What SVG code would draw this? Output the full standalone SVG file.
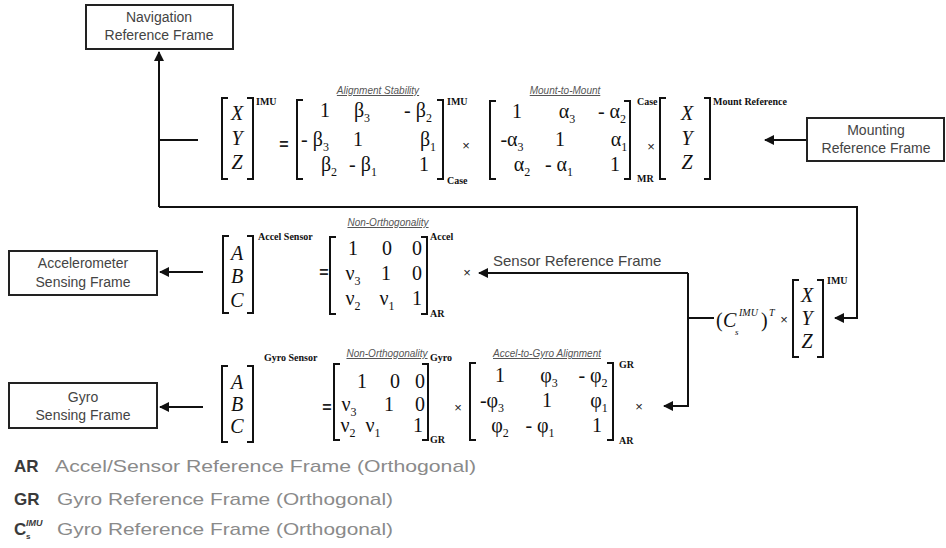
<svg xmlns="http://www.w3.org/2000/svg" width="946" height="548" viewBox="0 0 946 548">
<defs>
<marker id="ah" viewBox="0 0 10 10" refX="9" refY="5" markerWidth="5" markerHeight="5" orient="auto" markerUnits="strokeWidth">
<path d="M0,0 L10,5 L0,10 z" fill="#111"/>
</marker>
<style>
.bx{fill:#fff;stroke:#222;stroke-width:2}
.bt{font-family:"Liberation Sans",Arial,sans-serif;font-size:14px;fill:#444;text-anchor:middle}
.conn{fill:none;stroke:#111;stroke-width:2}
.br{fill:none;stroke:#111;stroke-width:2}
.m{font-family:"Liberation Serif","Times New Roman",serif;font-size:20px;fill:#111;text-anchor:middle}
.ms{font-family:"Liberation Serif","Times New Roman",serif;font-size:20px;fill:#111}
.mi{font-style:italic}
.sb{font-size:12px}
.sp{font-family:"Liberation Serif","Times New Roman",serif;font-size:10px;font-weight:bold;fill:#111}
.lb{font-family:"Liberation Sans",Arial,sans-serif;font-size:10px;font-style:italic;fill:#555;text-anchor:middle;text-decoration:underline}
.op{font-family:"Liberation Sans",Arial,sans-serif;font-size:13px;fill:#222;text-anchor:middle}
.eq{font-family:"Liberation Sans",Arial,sans-serif;font-size:16px;font-weight:bold;fill:#222;text-anchor:middle}
.lk{font-family:"Liberation Sans",Arial,sans-serif;font-size:17px;font-weight:bold;fill:#3a3a3a}
.ld{font-family:"Liberation Sans",Arial,sans-serif;font-size:17px;fill:#8a8a8a}
.st{font-family:"Liberation Sans",Arial,sans-serif;font-size:15px;fill:#444}
</style>
</defs>
<rect width="946" height="548" fill="#fff"/>

<g id="connectors">
<path class="conn" d="M159,207 V52" marker-end="url(#ah)"/>
<path class="conn" d="M159,140 H198"/>
<path class="conn" d="M159,207 H857 V318 H835" marker-end="url(#ah)"/>
<path class="conn" d="M807,140 H765" marker-end="url(#ah)"/>
<path class="conn" d="M203,272 H160" marker-end="url(#ah)"/>
<path class="conn" d="M203,407 H160" marker-end="url(#ah)"/>
<path class="conn" d="M688,273 H479" marker-end="url(#ah)"/>
<path class="conn" d="M688,273 V406 H664" marker-end="url(#ah)"/>
<path class="conn" d="M688,318 H714"/>
</g>

<g id="nav-frame">
<rect class="bx" x="86" y="5" width="147" height="44"/>
<text class="bt" x="159" y="22">Navigation</text>
<text class="bt" x="159" y="40">Reference Frame</text>
</g>

<g id="mounting-frame">
<rect class="bx" x="807" y="118" width="137" height="43"/>
<text class="bt" x="876" y="135">Mounting</text>
<text class="bt" x="876" y="153">Reference Frame</text>
</g>

<g id="accel-frame">
<rect class="bx" x="9" y="251" width="148" height="44"/>
<text class="bt" x="83" y="268">Accelerometer</text>
<text class="bt" x="83" y="287">Sensing Frame</text>
</g>

<g id="gyro-frame">
<rect class="bx" x="9" y="383" width="148" height="45"/>
<text class="bt" x="83" y="402">Gyro</text>
<text class="bt" x="83" y="420">Sensing Frame</text>
</g>

<g id="eq-imu">
<path class="br" d="M228,98 H222 V179 H228"/>
<path class="br" d="M247,98 H253 V179 H247"/>
<text class="m mi" x="237" y="120">X</text>
<text class="m mi" x="237" y="145">Y</text>
<text class="m mi" x="237" y="169">Z</text>
<text class="sp" x="256" y="105">IMU</text>
<text class="eq" x="284" y="150">=</text>

<text class="lb" x="378" y="94">Alignment Stability</text>
<path class="br" d="M303,100 H297 V179 H303"/>
<path class="br" d="M437,100 H443 V179 H437"/>
<text class="m" x="325" y="117">1</text>
<text class="m" x="362" y="117">β<tspan class="sb" dy="5">3</tspan></text>
<text class="m" x="418" y="117">- β<tspan class="sb" dy="5">2</tspan></text>
<text class="m" x="315" y="146">- β<tspan class="sb" dy="5">3</tspan></text>
<text class="m" x="358" y="146">1</text>
<text class="m" x="428" y="146">β<tspan class="sb" dy="5">1</tspan></text>
<text class="m" x="329" y="171">β<tspan class="sb" dy="5">2</tspan></text>
<text class="m" x="363" y="171">- β<tspan class="sb" dy="5">1</tspan></text>
<text class="m" x="424" y="171">1</text>
<text class="sp" x="447" y="105">IMU</text>
<text class="sp" x="447" y="184">Case</text>
<text class="op" x="466" y="150">×</text>

<text class="lb" x="565" y="94">Mount-to-Mount</text>
<path class="br" d="M496,101 H490 V179 H496"/>
<path class="br" d="M624,101 H630 V179 H624"/>
<text class="m" x="517" y="118">1</text>
<text class="m" x="567" y="118">α<tspan class="sb" dy="5">3</tspan></text>
<text class="m" x="612" y="118">- α<tspan class="sb" dy="5">2</tspan></text>
<text class="m" x="512" y="146">-α<tspan class="sb" dy="5">3</tspan></text>
<text class="m" x="560" y="146">1</text>
<text class="m" x="619" y="146">α<tspan class="sb" dy="5">1</tspan></text>
<text class="m" x="522" y="171">α<tspan class="sb" dy="5">2</tspan></text>
<text class="m" x="559" y="171">- α<tspan class="sb" dy="5">1</tspan></text>
<text class="m" x="615" y="171">1</text>
<text class="sp" x="637" y="105">Case</text>
<text class="sp" x="637" y="182">MR</text>
<text class="op" x="651" y="151">×</text>

<path class="br" d="M666,98 H660 V179 H666"/>
<path class="br" d="M704,98 H710 V179 H704"/>
<text class="m mi" x="687" y="120">X</text>
<text class="m mi" x="687" y="145">Y</text>
<text class="m mi" x="687" y="169">Z</text>
<text class="sp" x="713" y="105">Mount Reference</text>
</g>

<g id="eq-accel">
<path class="br" d="M229,236 H223 V313 H229"/>
<path class="br" d="M247,236 H253 V313 H247"/>
<text class="m mi" x="237" y="260">A</text>
<text class="m mi" x="237" y="283">B</text>
<text class="m mi" x="237" y="307">C</text>
<text class="sp" x="258" y="240">Accel Sensor</text>
<text class="eq" x="324" y="278">=</text>
<text class="lb" x="388" y="226">Non-Orthogonality</text>
<path class="br" d="M336,237 H330 V314 H336"/>
<path class="br" d="M421,237 H427 V314 H421"/>
<text class="m" x="353" y="255">1</text>
<text class="m" x="387" y="255">0</text>
<text class="m" x="417" y="255">0</text>
<text class="m" x="353" y="280">ν<tspan class="sb" dy="5">3</tspan></text>
<text class="m" x="386" y="280">1</text>
<text class="m" x="417" y="280">0</text>
<text class="m" x="353" y="305">ν<tspan class="sb" dy="5">2</tspan></text>
<text class="m" x="387" y="305">ν<tspan class="sb" dy="5">1</tspan></text>
<text class="m" x="417" y="305">1</text>
<text class="sp" x="430" y="240">Accel</text>
<text class="sp" x="430" y="317">AR</text>
<text class="op" x="467" y="277">×</text>
</g>

<g id="sensor-ref">
<text class="st" x="493" y="266">Sensor Reference Frame</text>
</g>

<g id="eq-cs">
<text class="ms" x="716" y="327">(</text>
<text class="ms mi" x="723" y="327">C</text>
<text class="ms mi" style="font-size:9px" x="735" y="335">s</text>
<text class="ms mi" style="font-size:10px" x="739" y="316">IMU</text>
<text class="ms" x="761" y="327">)</text>
<text class="ms mi" style="font-size:10px" x="769" y="316">T</text>
<text class="op" x="784" y="324">×</text>
<path class="br" d="M799,280 H793 V357 H799"/>
<path class="br" d="M817,280 H823 V357 H817"/>
<text class="m mi" x="807" y="302">X</text>
<text class="m mi" x="807" y="325">Y</text>
<text class="m mi" x="807" y="348">Z</text>
<text class="sp" x="827" y="284">IMU</text>
</g>

<g id="eq-gyro">
<path class="br" d="M228,366 H222 V442 H228"/>
<path class="br" d="M247,366 H253 V442 H247"/>
<text class="m mi" x="237" y="389">A</text>
<text class="m mi" x="237" y="411">B</text>
<text class="m mi" x="237" y="433">C</text>
<text class="sp" x="264" y="361">Gyro Sensor</text>
<text class="eq" x="327" y="413">=</text>
<text class="lb" x="387" y="357">Non-Orthogonality</text>
<path class="br" d="M340,364 H334 V440 H340"/>
<path class="br" d="M422,364 H428 V440 H422"/>
<text class="m" x="362" y="388">1</text>
<text class="m" x="395" y="388">0</text>
<text class="m" x="420" y="388">0</text>
<text class="m" x="349" y="411">ν<tspan class="sb" dy="5">3</tspan></text>
<text class="m" x="389" y="411">1</text>
<text class="m" x="420" y="411">0</text>
<text class="m" x="348" y="432">ν<tspan class="sb" dy="5">2</tspan></text>
<text class="m" x="373" y="432">ν<tspan class="sb" dy="5">1</tspan></text>
<text class="m" x="418" y="432">1</text>
<text class="sp" x="430" y="361">Gyro</text>
<text class="sp" x="430" y="443">GR</text>
<text class="op" x="458" y="412">×</text>

<text class="lb" x="547" y="357">Accel-to-Gyro Alignment</text>
<path class="br" d="M476,363 H470 V440 H476"/>
<path class="br" d="M607,363 H613 V440 H607"/>
<text class="m" x="500" y="382">1</text>
<text class="m" x="549" y="382">φ<tspan class="sb" dy="5">3</tspan></text>
<text class="m" x="593" y="382">- φ<tspan class="sb" dy="5">2</tspan></text>
<text class="m" x="492" y="407">-φ<tspan class="sb" dy="5">3</tspan></text>
<text class="m" x="547" y="407">1</text>
<text class="m" x="599" y="407">φ<tspan class="sb" dy="5">1</tspan></text>
<text class="m" x="500" y="432">φ<tspan class="sb" dy="5">2</tspan></text>
<text class="m" x="540" y="432">- φ<tspan class="sb" dy="5">1</tspan></text>
<text class="m" x="597" y="432">1</text>
<text class="sp" x="619" y="368">GR</text>
<text class="sp" x="619" y="444">AR</text>
<text class="op" x="639" y="411">×</text>
</g>

<g id="legend">
<text class="lk" x="14" y="472">AR</text>
<text class="ld" x="55" y="472" textLength="421" lengthAdjust="spacingAndGlyphs">Accel/Sensor Reference Frame (Orthogonal)</text>
<text class="lk" x="14" y="505">GR</text>
<text class="ld" x="57" y="505" textLength="336" lengthAdjust="spacingAndGlyphs">Gyro Reference Frame (Orthogonal)</text>
<text class="lk" x="14" y="535">C</text>
<text class="lk" style="font-size:8px" x="26" y="539">s</text>
<text class="lk" style="font-size:9px;font-style:italic" x="26" y="526">IMU</text>
<text class="ld" x="57" y="535" textLength="336" lengthAdjust="spacingAndGlyphs">Gyro Reference Frame (Orthogonal)</text>
</g>
</svg>
